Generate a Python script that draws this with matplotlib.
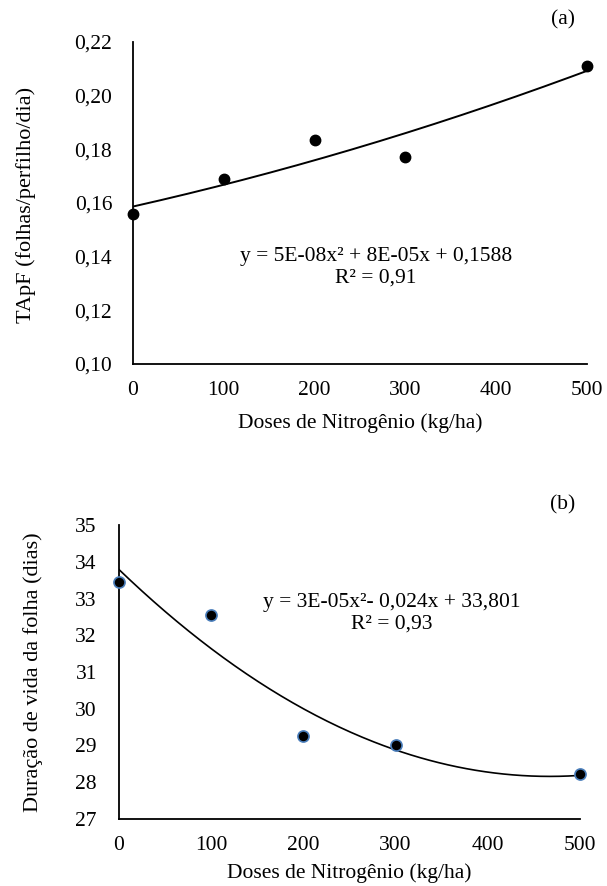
import numpy as np
import matplotlib
matplotlib.use("Agg")
import matplotlib.pyplot as plt

# data
doses = [0, 100, 200, 300, 500]
tapf = [0.156, 0.169, 0.1835, 0.177, 0.2112]
duracao = [33.45, 32.55, 29.25, 29.02, 28.22]

eq_a = "y = 5E-08x² + 8E-05x + 0,1588\nR² = 0,91"
eq_b = "y = 3E-05x²- 0,024x + 33,801\nR² = 0,93"

plt.rcParams['font.family'] = ['Liberation Serif', 'DejaVu Serif']
plt.rcParams['font.size'] = 15.5

W, H = 607, 886
fig = plt.figure(figsize=(W / 100, H / 100), dpi=100)


def px_axes(left, top, right, bottom):
    return fig.add_axes([left / W, 1 - bottom / H, (right - left) / W, (bottom - top) / H])


def fmt_comma(v, pos):
    return f"{v:.2f}".replace(".", ",")


def style(ax, ypad):
    for s in ["top", "right"]:
        ax.spines[s].set_visible(False)
    for s in ["left", "bottom"]:
        ax.spines[s].set_linewidth(1.3)
    ax.tick_params(axis="x", length=0, pad=12)
    ax.tick_params(axis="y", length=0, pad=ypad)


xs = np.linspace(0, 500, 200)

# (a)
ax1 = px_axes(133, 42, 587, 364)
coef_a = np.polyfit(doses, tapf, 2)
ax1.plot(xs, np.polyval(coef_a, xs), color="black", lw=1.4)
ax1.plot(doses, tapf, "o", color="black", ms=7.5, clip_on=False, zorder=5)
ax1.set_xlim(0, 500)
ax1.set_ylim(0.10, 0.22)
ax1.set_xticks([0, 100, 200, 300, 400, 500])
ax1.set_yticks([0.10, 0.12, 0.14, 0.16, 0.18, 0.20, 0.22])
ax1.yaxis.set_major_formatter(plt.FuncFormatter(fmt_comma))
style(ax1, 15)
ax1.set_xlabel("Doses de Nitrogênio (kg/ha)", labelpad=10)
ax1.text(0.535, 0.30, eq_a, transform=ax1.transAxes, ha="center", va="center",
         linespacing=1.2)
fig.text(26 / W, 1 - 205 / H, "TApF (folhas/perfilho/dia)", rotation=90,
         ha="center", va="center", fontsize=16)
fig.text(563 / W, 1 - 20 / H, "(a)", ha="center", va="center")

# (b)
ax2 = px_axes(119, 525, 580, 819)
coef_b = np.polyfit(doses, duracao, 2)
ax2.plot(xs, np.polyval(coef_b, xs), color="black", lw=1.2)
ax2.plot(doses, duracao, "o", color="black", mec="#4a7ebb", mew=1.2, ms=8,
         clip_on=False, zorder=5)
ax2.set_xlim(0, 500)
ax2.set_ylim(27, 35)
ax2.set_xticks([0, 100, 200, 300, 400, 500])
ax2.set_yticks(range(27, 36))
style(ax2, 16)
ax2.set_xlabel("Doses de Nitrogênio (kg/ha)", labelpad=6)
ax2.text(0.592, 0.70, eq_b, transform=ax2.transAxes, ha="center", va="center",
         linespacing=1.15)
fig.text(33 / W, 1 - 672 / H, "Duração de vida da folha (dias)", rotation=90,
         ha="center", va="center", fontsize=16)
fig.text(563 / W, 1 - 505 / H, "(b)", ha="center", va="center")

fig.savefig("out.png", dpi=100)
